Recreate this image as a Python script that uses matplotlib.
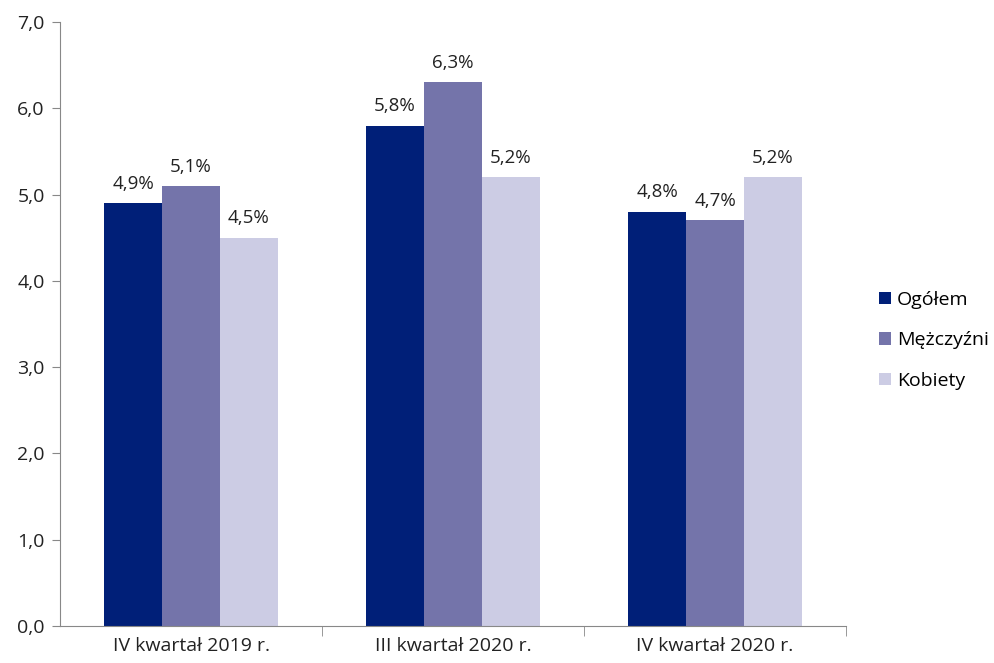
import matplotlib
matplotlib.use("Agg")
import matplotlib.pyplot as plt
import numpy as np

categories = ["IV kwartał 2019 r.", "III kwartał 2020 r.", "IV kwartał 2020 r."]
series_names = ["Ogółem", "Mężczyźni", "Kobiety"]
ogolem = [4.9, 5.8, 4.8]
mezczyzni = [5.1, 6.3, 4.7]
kobiety = [4.5, 5.2, 5.2]
colors = ["#001F78", "#7474AA", "#CCCCE4"]

plt.rcParams['font.family'] = ['Open Sans', 'DejaVu Sans']

fig = plt.figure(figsize=(9.94, 6.63), dpi=100)
ax = fig.add_axes([0.0604, 0.0558, 0.7907, 0.911])

x = np.arange(len(categories))
w = 0.221
for i, (vals, name, c) in enumerate(zip([ogolem, mezczyzni, kobiety], series_names, colors)):
    pos = x + (i - 1) * w
    ax.bar(pos, vals, width=w, color=c, label=name)
    for p, v in zip(pos, vals):
        ax.text(p, v + 0.12, f"{v:.1f}%".replace(".", ","), ha="center", va="bottom",
                fontsize=13.5, color="#222222")

ax.set_xlim(-0.5, 2.5)
ax.set_ylim(0, 7)
ax.set_yticks(np.arange(0, 8, 1))
ax.set_yticklabels([f"{v:.1f}".replace(".", ",") for v in np.arange(0, 8, 1)], fontsize=14, color="#222222")
ax.set_xticks(x)
ax.set_xticklabels(categories, fontsize=14, color="#222222")
ax.tick_params(axis="x", length=0, pad=8)
ax.set_xticks([0.5, 1.5, 2.5], minor=True)
ax.tick_params(axis="x", which="minor", length=7, color="#888888")
ax.tick_params(axis="y", length=6, color="#888888", pad=5)

for s in ["top", "right"]:
    ax.spines[s].set_visible(False)
for s in ["left", "bottom"]:
    ax.spines[s].set_color("#888888")

ax.legend(loc="center left", bbox_to_anchor=(1.02, 0.473), frameon=False, fontsize=14,
          handlelength=0.6, handleheight=0.6, handletextpad=0.3, labelspacing=1.15)

fig.savefig("out.png", dpi=100)
